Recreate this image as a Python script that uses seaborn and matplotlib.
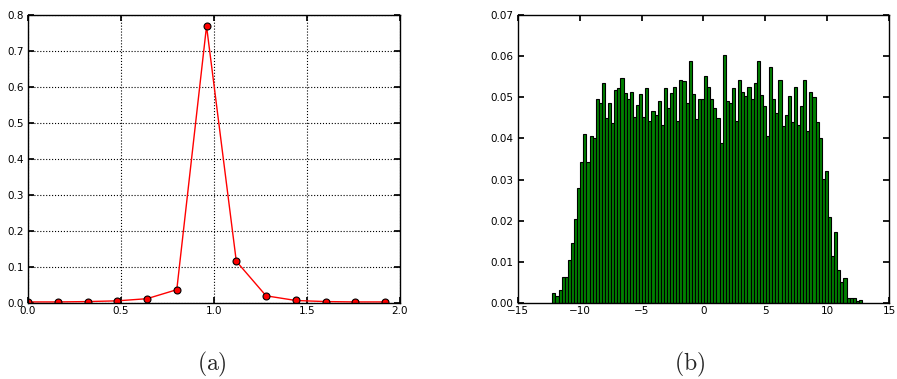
import numpy as np
import pandas as pd
import matplotlib
matplotlib.use("Agg")
import matplotlib.pyplot as plt
import seaborn as sns

# ----------------------
# data
# ----------------------
# (a) line with markers
line_x = [0.0, 0.16, 0.32, 0.48, 0.64, 0.80, 0.96, 1.12, 1.28, 1.44, 1.60, 1.76, 1.92]
line_y = [0.003, 0.003, 0.004, 0.006, 0.012, 0.037, 0.769, 0.116, 0.020, 0.007, 0.004, 0.003, 0.003]

# (b) histogram, 100 bins of width 0.25 starting at -12.2
hist_start = -12.2
hist_width = 0.25
hist_heights = [
    0.0025, 0.0018, 0.0032, 0.0062, 0.0062, 0.0105, 0.0145, 0.0205, 0.0280, 0.0342,
    0.0410, 0.0342, 0.0407, 0.0402, 0.0495, 0.0487, 0.0535, 0.0450, 0.0487, 0.0438,
    0.0518, 0.0522, 0.0547, 0.0510, 0.0495, 0.0513, 0.0452, 0.0482, 0.0507, 0.0453,
    0.0522, 0.0442, 0.0467, 0.0458, 0.0490, 0.0433, 0.0522, 0.0473, 0.0510, 0.0525,
    0.0442, 0.0543, 0.0540, 0.0487, 0.0587, 0.0507, 0.0447, 0.0497, 0.0497, 0.0552,
    0.0525, 0.0497, 0.0473, 0.0450, 0.0390, 0.0602, 0.0490, 0.0487, 0.0523, 0.0442,
    0.0543, 0.0513, 0.0503, 0.0525, 0.0495, 0.0535, 0.0587, 0.0505, 0.0478, 0.0405,
    0.0573, 0.0497, 0.0462, 0.0543, 0.0430, 0.0458, 0.0502, 0.0440, 0.0525, 0.0433,
    0.0478, 0.0543, 0.0417, 0.0513, 0.0500, 0.0440, 0.0402, 0.0302, 0.0322, 0.0208,
    0.0115, 0.0172, 0.0080, 0.0050, 0.0060, 0.0012, 0.0012, 0.0012, 0.0004, 0.0008,
]

# ----------------------
# style
# ----------------------
sns.set_theme(style="white")
plt.rcParams.update({
    "font.family": ["DejaVu Sans"],
    "font.size": 7.5,
    "axes.edgecolor": "black",
    "axes.linewidth": 1.0,
    "xtick.direction": "in",
    "ytick.direction": "in",
    "xtick.top": True,
    "ytick.right": True,
    "xtick.bottom": True,
    "ytick.left": True,
    "xtick.major.size": 4,
    "ytick.major.size": 4,
    "xtick.major.pad": 2,
    "ytick.major.pad": 3,
    "xtick.color": "black",
    "ytick.color": "black",
    "xtick.labelsize": 7.5,
    "ytick.labelsize": 7.5,
    "mathtext.fontset": "cm",
})

fig = plt.figure(figsize=(8.97, 3.79), dpi=100)
ax1 = fig.add_axes([0.0312, 0.2005, 0.4147, 0.760])
ax2 = fig.add_axes([0.5771, 0.2005, 0.4143, 0.760])

# ----------------------
# (a)
# ----------------------
sns.lineplot(x=line_x, y=line_y, ax=ax1, color="red", linewidth=1.0,
             marker="o", markersize=5, markeredgecolor="black",
             markeredgewidth=0.8, markerfacecolor="red")
ax1.set_xlim(0, 2.0)
ax1.set_ylim(0, 0.8)
ax1.set_xticks(np.arange(0, 2.01, 0.5))
ax1.set_yticks(np.arange(0, 0.81, 0.1))
ax1.xaxis.set_major_formatter(matplotlib.ticker.FormatStrFormatter("%.1f"))
ax1.yaxis.set_major_formatter(matplotlib.ticker.FormatStrFormatter("%.1f"))
ax1.grid(True, color="black", linestyle=":", linewidth=0.8)

# ----------------------
# (b)
# ----------------------
n_bins = len(hist_heights)
edges = hist_start + hist_width * np.arange(n_bins + 1)
centers = (edges[:-1] + edges[1:]) / 2
hist_df = pd.DataFrame({"x": centers, "w": hist_heights})
sns.histplot(data=hist_df, x="x", weights="w", binwidth=hist_width,
             binrange=(edges[0], edges[-1]), ax=ax2,
             stat="count", color="green", edgecolor="black", linewidth=0.8,
             alpha=1.0)
ax2.set_xlim(-15, 15)
ax2.set_ylim(0, 0.07)
ax2.set_xticks(np.arange(-15, 16, 5))
ax2.set_yticks(np.arange(0, 0.071, 0.01))
ax2.yaxis.set_major_formatter(matplotlib.ticker.FormatStrFormatter("%.2f"))
ax2.grid(False)

for ax in (ax1, ax2):
    ax.set_xlabel("")
    ax.set_ylabel("")
    for s in ax.spines.values():
        s.set_visible(True)
        s.set_color("black")

fig.text(0.236, 0.038, r"$\mathrm{(a)}$", ha="center", va="center", fontsize=17)
fig.text(0.769, 0.038, r"$\mathrm{(b)}$", ha="center", va="center", fontsize=17)

fig.savefig("out.png", dpi=100, facecolor="white")
